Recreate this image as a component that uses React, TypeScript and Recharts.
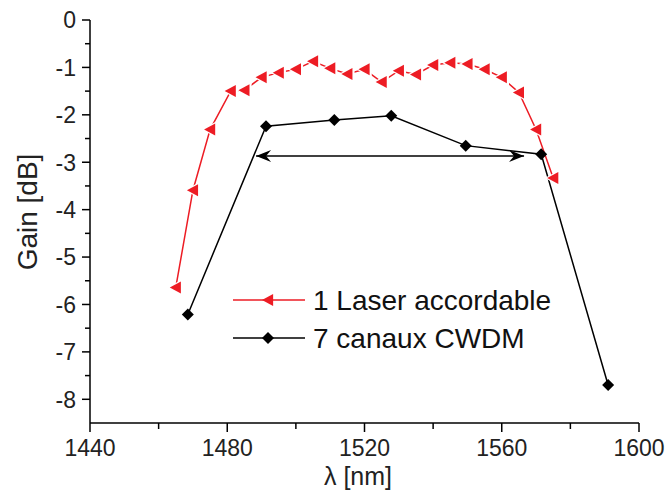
import React from 'react';
import { LineChart, Line, XAxis, YAxis } from 'recharts';

// 1 laser accordable (red)
const laserWavelengths = [
    1465, 1470, 1475, 1481, 1485, 1490, 1495, 1500, 1505, 1510, 1515, 1520,
    1525, 1530, 1535, 1540, 1545, 1550, 1555, 1560, 1565, 1570, 1575,
];
const laserGain = [
    -5.64, -3.59, -2.31, -1.5, -1.48, -1.21, -1.11, -1.04, -0.87, -1.02, -1.14, -1.04,
    -1.31, -1.07, -1.15, -0.95, -0.9, -0.93, -1.04, -1.21, -1.53, -2.31, -3.33,
];

// 7 canaux CWDM (black)
const cwdmWavelengths = [1468.5, 1491.3, 1511.2, 1527.8, 1549.5, 1571.5, 1591];
const cwdmGain = [-6.21, -2.24, -2.11, -2.02, -2.65, -2.83, -7.7];

// double arrow marking the band
const arrowWavelengths = [1488.4, 1566.5];
const arrowGain = [-2.87, -2.87];

const xTicks = [1440, 1460, 1480, 1500, 1520, 1540, 1560, 1580, 1600];
const yTicks = [0, -0.5, -1, -1.5, -2, -2.5, -3, -3.5, -4, -4.5, -5, -5.5, -6, -6.5, -7, -7.5, -8];

const laserData = laserWavelengths.map((x, i) => ({ x, y: laserGain[i] }));
const cwdmData = cwdmWavelengths.map((x, i) => ({ x, y: cwdmGain[i] }));
const arrowData = arrowWavelengths.map((x, i) => ({ x, y: arrowGain[i] }));

const FONT = '"Liberation Sans", Arial, sans-serif';
const RED = '#ed1c24';

function triangle(cx: number, cy: number, r: number) {
    return `M${cx - r},${cy} L${cx + r * 0.85},${cy - r} L${cx + r * 0.85},${cy + r} Z`;
}

function diamond(cx: number, cy: number, r: number) {
    return `M${cx},${cy - r} L${cx + r},${cy} L${cx},${cy + r} L${cx - r},${cy} Z`;
}

const TriangleDot = (props: any) => {
    const { cx, cy, index } = props;
    if (cx == null || cy == null) return null;
    return (
        <g key={`t-${index}`}>
            <path d={triangle(cx, cy, 8.5)} fill="#fff" />
            <path d={triangle(cx, cy, 6)} fill={RED} />
        </g>
    );
};

const DiamondDot = (props: any) => {
    const { cx, cy, index } = props;
    if (cx == null || cy == null) return null;
    return <path key={`d-${index}`} d={diamond(cx, cy, 6)} fill="#000" />;
};

const ArrowHead = (props: any) => {
    const { cx, cy, index } = props;
    if (cx == null || cy == null) return null;
    const s = index === 0 ? 1 : -1;
    const d = `M${cx},${cy} L${cx + s * 15},${cy - 6} L${cx + s * 10},${cy} L${cx + s * 15},${cy + 6} Z`;
    return <path key={`a-${index}`} d={d} fill="#000" />;
};

const YTick = (props: any) => {
    const { x, y, payload } = props;
    const major = Number.isInteger(payload.value);
    return (
        <g>
            <line x1={x} x2={x - (major ? 8 : 5)} y1={y} y2={y} stroke="#000" strokeWidth={1.5} />
            {major && (
                <text x={x - 14} y={y} dy="0.36em" textAnchor="end" fontSize={23} fontFamily={FONT} fill="#222">
                    {payload.value}
                </text>
            )}
        </g>
    );
};

const XTick = (props: any) => {
    const { x, y, payload } = props;
    const major = payload.value % 40 === 0;
    return (
        <g>
            <line x1={x} x2={x} y1={y} y2={y + (major ? 9 : 6)} stroke="#000" strokeWidth={1.5} />
            {major && (
                <text x={x} y={y + 33} textAnchor="middle" fontSize={23} fontFamily={FONT} fill="#222">
                    {payload.value}
                </text>
            )}
        </g>
    );
};

// legend drawn straight into the svg so it does not push the plot area
const LegendBox = () => (
    <g transform="translate(233, 283)">
        <line x1={0} x2={72} y1={17} y2={17} stroke={RED} strokeWidth={1.5} />
        <path d={triangle(35, 17, 6)} fill={RED} />
        <text x={80} y={17} dy="0.36em" fontSize={28} fontFamily={FONT} fill="#111">
            1 Laser accordable
        </text>
        <line x1={0} x2={72} y1={55} y2={55} stroke="#000" strokeWidth={1.5} />
        <path d={diamond(35, 55, 6)} fill="#000" />
        <text x={80} y={55} dy="0.36em" fontSize={28} fontFamily={FONT} fill="#111">
            7 canaux CWDM
        </text>
    </g>
);

export default function App() {
    return (
        <div style={{ position: 'absolute', left: 0, top: 0, width: 670, height: 491, background: '#fff' }}>
            <LineChart width={670} height={491} margin={{ top: 20, right: 31, left: 0, bottom: 0 }}>
                <XAxis
                    dataKey="x"
                    type="number"
                    domain={[1440, 1600]}
                    ticks={xTicks}
                    interval={0}
                    height={68}
                    tickSize={0}
                    tickMargin={0}
                    tickLine={false}
                    tick={<XTick />}
                    axisLine={{ stroke: '#000', strokeWidth: 1.5 }}
                    allowDataOverflow
                />
                <YAxis
                    dataKey="y"
                    type="number"
                    domain={[-8.5, 0]}
                    ticks={yTicks}
                    interval={0}
                    width={90}
                    tickSize={0}
                    tickMargin={0}
                    tickLine={false}
                    tick={<YTick />}
                    axisLine={{ stroke: '#000', strokeWidth: 1.5 }}
                    allowDataOverflow
                />
                <Line
                    data={arrowData}
                    dataKey="y"
                    stroke="#000"
                    strokeWidth={1.5}
                    dot={<ArrowHead />}
                    activeDot={false}
                    isAnimationActive={false}
                    legendType="none"
                />
                <Line
                    data={cwdmData}
                    dataKey="y"
                    name="7 canaux CWDM"
                    stroke="#000"
                    strokeWidth={1.5}
                    dot={<DiamondDot />}
                    activeDot={false}
                    isAnimationActive={false}
                />
                <Line
                    data={laserData}
                    dataKey="y"
                    name="1 Laser accordable"
                    stroke={RED}
                    strokeWidth={1.5}
                    dot={<TriangleDot />}
                    activeDot={false}
                    isAnimationActive={false}
                />
                <LegendBox />
                <text x={27} y={212} transform="rotate(-90 27 212)" textAnchor="middle" dy="0.36em" fontSize={28} fontFamily={FONT} fill="#222">
                    Gain [dB]
                </text>
                <text x={358} y={485} textAnchor="middle" fontSize={25} fontFamily={FONT} fill="#222">
                    λ [nm]
                </text>
            </LineChart>
        </div>
    );
}
